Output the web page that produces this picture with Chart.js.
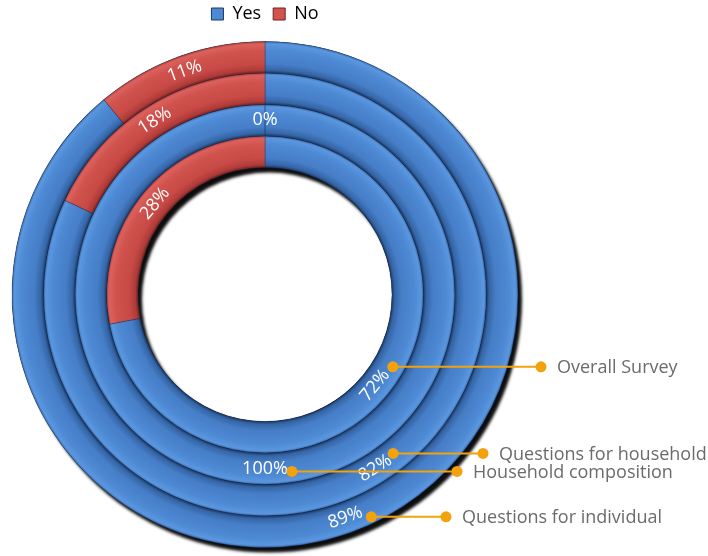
<!DOCTYPE html>
<html>
<head>
<meta charset="utf-8">
<script src="https://cdn.jsdelivr.net/npm/chart.js@4.4.0/dist/chart.umd.min.js"></script>
<style>
  html, body { margin:0; padding:0; background:#fff; }
  #wrap { width:708px; height:556px; }
</style>
</head>
<body>
<div id="wrap"><canvas id="ringChart"></canvas></div>
<script>
// data, outer ring first
const answers  = ['Yes', 'No'];
const surveys  = ['Questions for individual', 'Questions for household', 'Household composition', 'Overall Survey'];
const yesShare = [89, 82, 100, 72];
const noShare  = [11, 18, 0, 28];

const R_OUT = 253;
const CUT   = 0.502;
const FONT  = '"Open Sans", Lato, sans-serif';

// colour ramps: inner edge -> outer edge of each ring
const ramps = {
  Yes: ['#1b3861', '#3464a5', '#467ec7', '#4e89d4', '#5b97df', '#3b6fb3'],
  No:  ['#72201e', '#ad3b38', '#c84a46', '#d0534e', '#dc615c', '#b23e3a']
};

function ringFill(c) {
  const chart = c.chart;
  const area = chart.chartArea;
  const key = answers[c.dataIndex] || 'Yes';
  const ramp = ramps[key];
  if (!area || c.type !== 'data') return ramp[2];
  const n = chart.data.datasets.length;
  const w = R_OUT * (1 - CUT) / n;
  const r1 = R_OUT - c.datasetIndex * w;
  const r0 = r1 - w;
  const cx = (area.left + area.right) / 2, cy = (area.top + area.bottom) / 2;
  const g = chart.ctx.createRadialGradient(cx, cy, r0, cx, cy, r1);
  g.addColorStop(0.00, ramp[0]);
  g.addColorStop(0.09, ramp[1]);
  g.addColorStop(0.30, ramp[2]);
  g.addColorStop(0.72, ramp[3]);
  g.addColorStop(0.92, ramp[4]);
  g.addColorStop(1.00, ramp[5]);
  return g;
}

// drop shadow under the whole doughnut
const shadowPlugin = {
  id: 'ringShadow',
  beforeDatasetsDraw(chart) {
    const outer = chart.getDatasetMeta(0).data[0];
    const inner = chart.getDatasetMeta(chart.data.datasets.length - 1).data[0];
    if (!outer || !inner) return;
    const ctx = chart.ctx;
    ctx.save();
    ctx.shadowColor = 'rgba(0,0,0,0.95)';
    ctx.shadowBlur = 3;
    ctx.shadowOffsetX = 4;
    ctx.shadowOffsetY = 5;
    ctx.fillStyle = '#000';
    ctx.beginPath();
    ctx.arc(outer.x, outer.y, outer.outerRadius, 0, Math.PI * 2);
    ctx.arc(outer.x, outer.y, inner.innerRadius, 0, Math.PI * 2, true);
    ctx.fill();
    ctx.restore();
  }
};

// percentage labels following the ring
const pctPlugin = {
  id: 'pctLabels',
  afterDatasetsDraw(chart) {
    const ctx = chart.ctx;
    ctx.save();
    ctx.fillStyle = '#fff';
    ctx.font = '18px ' + FONT;
    ctx.textAlign = 'center';
    ctx.textBaseline = 'middle';
    chart.data.datasets.forEach((ds, di) => {
      chart.getDatasetMeta(di).data.forEach((arc, i) => {
        const p = arc.getProps(['x', 'y', 'startAngle', 'endAngle', 'innerRadius', 'outerRadius'], true);
        const mid = (p.startAngle + p.endAngle) / 2;
        const r = (p.innerRadius + p.outerRadius) / 2;
        let rot = mid + Math.PI / 2;
        rot = Math.atan2(Math.sin(rot), Math.cos(rot));
        if (rot > Math.PI / 2 + 0.01 || rot < -Math.PI / 2 - 0.01) rot += Math.PI;
        if (Math.abs(Math.abs(rot) - Math.PI) < 0.02) rot = 0;
        ctx.save();
        ctx.translate(p.x + Math.cos(mid) * r, p.y + Math.sin(mid) * r);
        ctx.rotate(rot);
        ctx.fillText(ds.data[i] + '%', 0, 0);
        ctx.restore();
      });
    });
    ctx.restore();
  }
};

// series name call-outs
const calloutPlugin = {
  id: 'callouts',
  afterDraw(chart, args, opts) {
    const ctx = chart.ctx;
    ctx.save();
    opts.items.forEach(it => {
      const arc = chart.getDatasetMeta(it.ring).data[0];
      if (!arc) return;
      const a = -Math.PI / 2 + it.at * Math.PI * 2;
      const r = arc.innerRadius + (arc.outerRadius - arc.innerRadius) * it.depth;
      const x0 = arc.x + Math.cos(a) * r;
      const y0 = arc.y + Math.sin(a) * r;
      ctx.strokeStyle = opts.color;
      ctx.lineWidth = 2;
      ctx.beginPath();
      ctx.moveTo(x0, y0);
      ctx.lineTo(it.endX, y0);
      ctx.stroke();
      ctx.fillStyle = opts.color;
      [x0, it.endX].forEach(x => {
        ctx.beginPath();
        ctx.arc(x, y0, 5.5, 0, Math.PI * 2);
        ctx.fill();
      });
      ctx.fillStyle = '#6b6b6b';
      ctx.font = '18px ' + FONT;
      ctx.textAlign = 'left';
      ctx.textBaseline = 'middle';
      ctx.fillText(chart.data.datasets[it.ring].label, it.endX + 16, y0 + 1);
    });
    ctx.restore();
  }
};

const datasets = surveys.map((name, k) => ({
  label: name,
  data: [yesShare[k], noShare[k]],
  backgroundColor: ringFill,
  borderColor: 'rgba(25,45,85,0.35)',
  borderWidth: 1
}));

new Chart(document.getElementById('ringChart'), {
  type: 'doughnut',
  data: { labels: answers, datasets },
  plugins: [shadowPlugin, pctPlugin, calloutPlugin],
  options: {
    responsive: true,
    maintainAspectRatio: false,
    animation: false,
    radius: R_OUT,
    cutout: (CUT * 100) + '%',
    layout: { padding: { top: -7, right: 178, bottom: 0, left: 0 } },
    plugins: {
      tooltip: { enabled: false },
      legend: {
        position: 'top',
        labels: {
          color: '#6b6b6b',
          font: { size: 18, family: FONT },
          boxWidth: 12,
          boxHeight: 12,
          padding: 12,
          generateLabels: () => answers.map(a => ({
            text: a,
            fillStyle: ramps[a][3],
            strokeStyle: ramps[a][0],
            lineWidth: 1,
            hidden: false
          }))
        }
      },
      callouts: {
        color: '#f2a20c',
        items: [
          { ring: 3, at: 0.332, depth: 0.63, endX: 541 },
          { ring: 1, at: 0.392, depth: 0.45, endX: 483 },
          { ring: 2, at: 0.476, depth: 0.65, endX: 457 },
          { ring: 0, at: 0.429, depth: 0.79, endX: 446 }
        ]
      }
    }
  }
});
</script>
</body>
</html>
